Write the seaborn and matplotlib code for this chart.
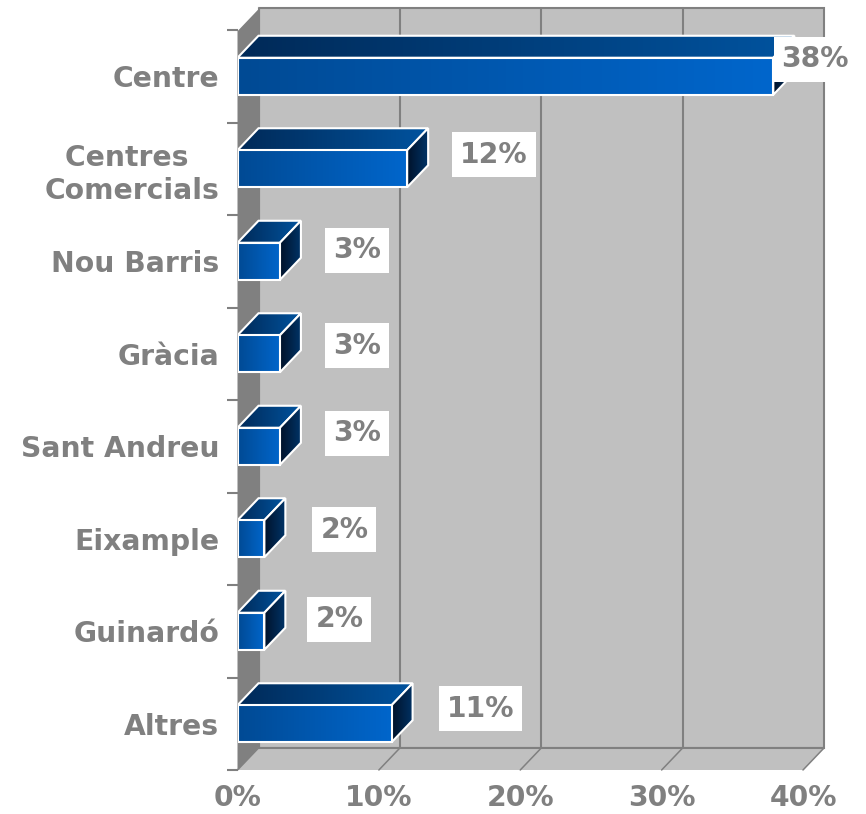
import numpy as np
import pandas as pd
import seaborn as sns
import matplotlib.pyplot as plt
from matplotlib.colors import LinearSegmentedColormap
from matplotlib.patches import Polygon, Rectangle
from matplotlib.transforms import IdentityTransform

# values
categories = ["Centre", "Centres \nComercials", "Nou Barris", "Gràcia",
              "Sant Andreu", "Eixample", "Guinardó", "Altres"]
values = [37.9, 12.0, 3.0, 3.0, 3.0, 1.9, 1.9, 10.9]
value_labels = ["38%", "12%", "3%", "3%", "3%", "2%", "2%", "11%"]
x_ticks = [0, 10, 20, 30, 40]
x_tick_labels = ["0%", "10%", "20%", "30%", "40%"]

# label offsets from the bar end, in pixels
label_dx = [42, 87, 77, 77, 77, 80, 75, 89]
label_dy = [17, 14, 11, 8, 13, 9, 12, 15]

GREY = "#808080"
WALL = "#c0c0c0"
FONT = 20.3
W, H = 866, 814
left, right, top, bottom = 237.5, 803, 30, 770

sns.set_style("white")
plt.rcParams['font.family'] = ['DejaVu Sans']

fig = plt.figure(figsize=(W / 100, H / 100), dpi=100)
ax = fig.add_axes([left / W, 1 - bottom / H, (right - left) / W, (bottom - top) / H])

df = pd.DataFrame({"cat": categories, "val": values})
sns.barplot(data=df, x="val", y="cat", orient="h", width=0.4, color="#0058b0",
            linewidth=0, ax=ax, zorder=1)
ax.set_xlim(0, 40)
ax.set_ylim(7.5, -0.5)

# depth of the fake 3d box, in data units
dx = 21 / ((right - left) / 40)
dy = 22 / ((bottom - top) / 8)


def wall(points, color, edge="none", z=0):
    ax.add_patch(Polygon(points, closed=True, facecolor=color, edgecolor=edge,
                         lw=1.5, clip_on=False, zorder=z))


wall([(dx, -0.5 - dy), (40 + dx, -0.5 - dy), (40 + dx, 7.5 - dy), (dx, 7.5 - dy)], WALL, GREY)
wall([(0, 7.5), (dx, 7.5 - dy), (40 + dx, 7.5 - dy), (40, 7.5)], WALL)
wall([(0, -0.5), (dx, -0.5 - dy), (dx, 7.5 - dy), (0, 7.5)], GREY)
ax.plot([0, dx], [-0.5, -0.5 - dy], color="white", lw=1.2, clip_on=False, zorder=0.5)
ax.plot([dx, 40 + dx], [7.5 - dy, 7.5 - dy], color=GREY, lw=1.5, clip_on=False, zorder=0.5)
ax.plot([dx, dx], [-0.5 - dy, 7.5 - dy], color=GREY, lw=1.5, clip_on=False, zorder=0.5)

for t in x_ticks[1:-1]:
    ax.plot([t + dx, t + dx], [-0.5 - dy, 7.5 - dy], color=GREY, lw=1.5, clip_on=False, zorder=0.5)
for t in x_ticks:
    ax.plot([t, t + dx], [7.5, 7.5 - dy], color=GREY, lw=1.1, clip_on=False, zorder=0.5)


def face(points, c0, c1, z):
    xs = [p[0] for p in points]
    ys = [p[1] for p in points]
    cmap = LinearSegmentedColormap.from_list("face", [c0, c1])
    img = ax.imshow(np.linspace(0, 1, 128).reshape(1, -1), cmap=cmap, aspect="auto",
                    extent=(min(xs), max(xs), max(ys), min(ys)), zorder=z)
    outline = Polygon(points, closed=True, facecolor="none", edgecolor="white",
                      lw=1.5, zorder=z + 0.1)
    ax.add_patch(outline)
    img.set_clip_path(outline)


for i, bar in enumerate(ax.patches[:len(values)]):
    bar.set_visible(False)
    w = bar.get_width()
    y0 = bar.get_y()
    y1 = y0 + bar.get_height()
    z = 2 + i
    face([(0, y0), (dx, y0 - dy), (w + dx, y0 - dy), (w, y0)], "#002a58", "#00539f", z)
    face([(w, y0), (w + dx, y0 - dy), (w + dx, y1 - dy), (w, y1)], "#00122a", "#003366", z + 0.2)
    face([(0, y0), (w, y0), (w, y1), (0, y1)], "#004a94", "#0066cc", z + 0.4)

ax.set_xlim(0, 40)
ax.set_ylim(7.5, -0.5)

# axes
sns.despine(ax=ax, left=True, bottom=True, top=True, right=True)
ax.set_xlabel("")
ax.set_ylabel("")
ax.set_xticks(x_ticks)
ax.set_xticklabels(x_tick_labels, fontsize=FONT, fontweight="bold", color=GREY)
ax.set_yticks(range(len(categories)))
ax.set_yticklabels(categories, fontsize=FONT, fontweight="bold", color=GREY,
                   multialignment="center", linespacing=1.25)
ax.tick_params(axis="x", length=0, pad=10)
ax.tick_params(axis="y", which="major", length=0, pad=13)
ax.set_yticks(np.arange(-0.5, 8), minor=True)
ax.tick_params(axis="y", which="minor", length=8, width=1.5, color=GREY, left=True)

# value labels with white boxes
fig.canvas.draw()
for i, lab in enumerate(value_labels):
    px, py = ax.transData.transform((values[i], i))
    txt = fig.text(px + label_dx[i], py + label_dy[i], lab, transform=IdentityTransform(),
                   ha="center", va="center", fontsize=FONT, fontweight="bold", color=GREY,
                   zorder=21)
    box = txt.get_window_extent(fig.canvas.get_renderer())
    fig.add_artist(Rectangle((box.x0 - 8, py + label_dy[i] - 22.5), box.width + 16, 45,
                             transform=IdentityTransform(), facecolor="white",
                             edgecolor="none", zorder=20))

fig.savefig("out.png", dpi=100, facecolor="white")
